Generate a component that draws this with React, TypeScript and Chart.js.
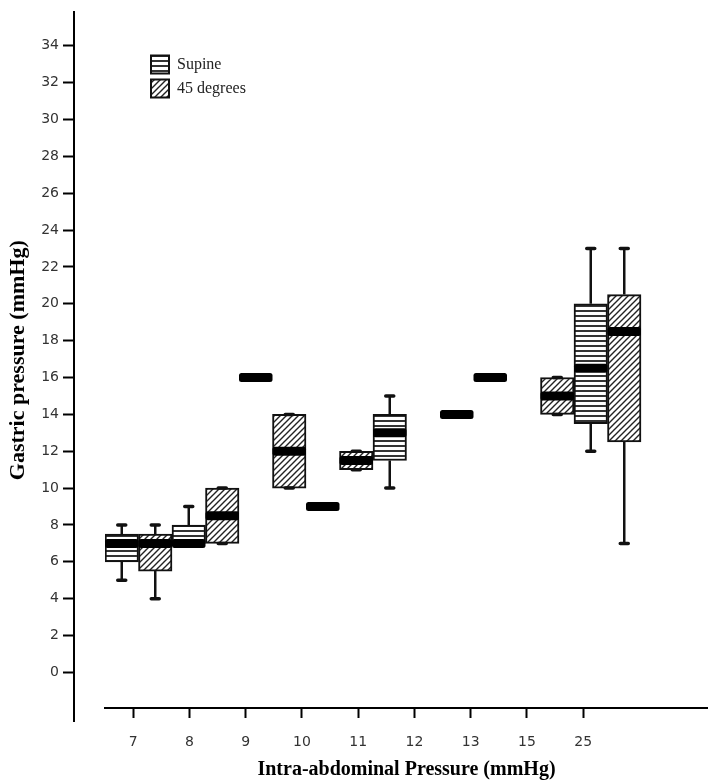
import React, { useEffect, useRef } from 'react';
import { Chart, registerables } from 'chart.js';

Chart.register(...registerables);

// ---- data ----
const categories = ['7', '8', '9', '10', '11', '12', '13', '15', '25'];
const xTickLabels = ['7', '8', '9', '10', '11', '12', '13', '15', '25'];
const yTickValues = [0, 2, 4, 6, 8, 10, 12, 14, 16, 18, 20, 22, 24, 26, 28, 30, 32, 34];

const supineMin = [5, 7, 16, 9, 10, 14, null, 12, null];
const supineQ1 = [6, 7, 16, 9, 11.5, 14, null, 13.5, null];
const supineMedian = [7, 7, 16, 9, 13, 14, null, 16.5, null];
const supineQ3 = [7.5, 8, 16, 9, 14, 14, null, 20, null];
const supineMax = [8, 9, 16, 9, 15, 14, null, 23, null];

const deg45Min = [4, 7, 10, 11, null, 16, 14, 7, null];
const deg45Q1 = [5.5, 7, 10, 11, null, 16, 14, 12.5, null];
const deg45Median = [7, 8.5, 12, 11.5, null, 16, 15, 18.5, null];
const deg45Q3 = [7.5, 10, 14, 12, null, 16, 16, 20.5, null];
const deg45Max = [8, 10, 14, 12, null, 16, 16, 23, null];

function makeStripes(): CanvasPattern {
  const c = document.createElement('canvas');
  c.width = 4;
  c.height = 5;
  const g = c.getContext('2d')!;
  g.fillStyle = '#ffffff';
  g.fillRect(0, 0, 4, 5);
  g.fillStyle = '#333';
  g.fillRect(0, 0, 4, 2);
  return g.createPattern(c, 'repeat')!;
}

function makeHatch(): CanvasPattern {
  const s = 6;
  const c = document.createElement('canvas');
  c.width = s;
  c.height = s;
  const g = c.getContext('2d')!;
  g.fillStyle = '#ffffff';
  g.fillRect(0, 0, s, s);
  g.strokeStyle = '#222';
  g.lineWidth = 1.4;
  g.beginPath();
  g.moveTo(0, s);
  g.lineTo(s, 0);
  g.moveTo(-s / 2, s / 2);
  g.lineTo(s / 2, -s / 2);
  g.moveTo(s / 2, s * 1.5);
  g.lineTo(s * 1.5, s / 2);
  g.stroke();
  return g.createPattern(c, 'repeat')!;
}

const boxDetails = {
  id: 'boxDetails',
  afterDatasetsDraw(chart: any) {
    const { ctx } = chart;
    const yScale = chart.scales.y;
    chart.data.datasets.forEach((ds: any, di: number) => {
      const meta = chart.getDatasetMeta(di);
      if (!ds.stats || meta.hidden) return;
      meta.data.forEach((el: any, i: number) => {
        const med = ds.stats.median[i];
        if (med == null) return;
        const { x, width } = el.getProps(['x', 'width'], true);
        const pMin = yScale.getPixelForValue(ds.stats.min[i]);
        const pMax = yScale.getPixelForValue(ds.stats.max[i]);
        const pQ1 = yScale.getPixelForValue(ds.stats.q1[i]);
        const pQ3 = yScale.getPixelForValue(ds.stats.q3[i]);
        const pMed = yScale.getPixelForValue(med);
        ctx.save();
        ctx.strokeStyle = '#111';
        ctx.lineWidth = 2.5;
        ctx.beginPath();
        ctx.moveTo(x, pQ3);
        ctx.lineTo(x, pMax);
        ctx.moveTo(x, pQ1);
        ctx.lineTo(x, pMin);
        ctx.stroke();
        ctx.lineWidth = 3.5;
        ctx.lineCap = 'round';
        ctx.beginPath();
        ctx.moveTo(x - 4, pMax);
        ctx.lineTo(x + 4, pMax);
        ctx.moveTo(x - 4, pMin);
        ctx.lineTo(x + 4, pMin);
        ctx.stroke();
        ctx.fillStyle = '#000';
        ctx.beginPath();
        if ((ctx as any).roundRect) {
          (ctx as any).roundRect(x - width / 2, pMed - 4.5, width, 9, 2.5);
        } else {
          ctx.rect(x - width / 2, pMed - 4.5, width, 9);
        }
        ctx.fill();
        ctx.restore();
      });
    });
  },
};

// extends the value axis line a little below the category axis, as in the source figure
const axisTail = {
  id: 'axisTail',
  afterDraw(chart: any) {
    const y = chart.scales.y;
    const { ctx } = chart;
    ctx.save();
    ctx.strokeStyle = '#000';
    ctx.lineWidth = 2;
    ctx.beginPath();
    ctx.moveTo(y.right, y.bottom - 2);
    ctx.lineTo(y.right, y.bottom + 14);
    ctx.stroke();
    ctx.restore();
  },
};

const legendPlacer = {
  id: 'legendPlacer',
  afterLayout(chart: any) {
    const lg = chart.legend;
    if (!lg) return;
    const w = lg.width;
    const h = lg.height;
    lg.left = chart.chartArea.left + 40;
    lg.top = chart.chartArea.top + 37;
    lg.right = lg.left + w;
    lg.bottom = lg.top + h;
  },
};

export default function App() {
  const ref = useRef<HTMLCanvasElement>(null);
  useEffect(() => {
    const canvas = ref.current!;
    const stripes = makeStripes();
    const hatch = makeHatch();
    const boxData = (q1: (number | null)[], q3: (number | null)[]) =>
      q1.map((v, i) => (v == null || q3[i] == null ? null : [v, q3[i] as number]));

    const chart = new Chart(canvas, {
      type: 'bar',
      data: {
        labels: categories,
        datasets: [
          {
            label: 'Supine',
            data: boxData(supineQ1, supineQ3) as any,
            backgroundColor: stripes as any,
            borderColor: '#111',
            borderWidth: 2,
            borderSkipped: false,
            xAxisID: 'xb',
            yAxisID: 'y',
            categoryPercentage: 1,
            barPercentage: 1,
            stats: { min: supineMin, q1: supineQ1, median: supineMedian, q3: supineQ3, max: supineMax },
          } as any,
          {
            label: '45 degrees',
            data: boxData(deg45Q1, deg45Q3) as any,
            backgroundColor: hatch as any,
            borderColor: '#111',
            borderWidth: 2,
            borderSkipped: false,
            xAxisID: 'xb',
            yAxisID: 'y',
            categoryPercentage: 1,
            barPercentage: 1,
            stats: { min: deg45Min, q1: deg45Q1, median: deg45Median, q3: deg45Q3, max: deg45Max },
          } as any,
        ],
      },
      options: {
        animation: false,
        responsive: false,
        devicePixelRatio: 1,
        layout: { padding: { top: 3, right: 0, left: 0, bottom: 0 } },
        font: { family: 'DejaVu Sans' },
        plugins: {
          tooltip: { enabled: false },
          legend: {
            position: 'chartArea' as any,
            align: 'start',
            labels: {
              boxWidth: 18,
              boxHeight: 18,
              padding: 6,
              color: '#222',
              font: { family: 'Liberation Serif', size: 16 },
            },
          },
        },
        scales: {
          y: {
            type: 'linear',
            position: 'left',
            weight: 1,
            min: -1.93,
            max: 35.81,
            afterBuildTicks: (s: any) => {
              s.ticks = yTickValues.map((v) => ({ value: v }));
            },
            afterFit: (s: any) => {
              s.width = 74;
            },
            border: { display: true, color: '#000', width: 2 },
            grid: {
              display: true,
              drawOnChartArea: false,
              drawTicks: true,
              tickLength: 11,
              tickWidth: 2,
              tickColor: '#000',
              color: '#000',
            },
            ticks: { font: { family: 'DejaVu Sans', size: 14 }, color: '#333', padding: 4 },
            title: {
              display: true,
              text: 'Gastric pressure (mmHg)',
              color: '#000',
              font: { family: 'Liberation Serif', size: 22, weight: 'bold' },
              padding: { top: 5, bottom: 0 },
            },
          },
          yGap: {
            type: 'linear',
            position: 'left',
            weight: 0,
            min: 0,
            max: 1,
            afterFit: (s: any) => {
              s.width = 31;
            },
            border: { display: false },
            grid: { display: false },
            ticks: { display: false },
          },
          x: {
            type: 'linear',
            position: 'bottom',
            min: -0.5,
            max: 10.22,
            offset: false,
            afterBuildTicks: (s: any) => {
              s.ticks = xTickLabels.map((_, i) => ({ value: i }));
            },
            afterFit: (s: any) => {
              s.height = 74;
            },
            border: { display: true, color: '#000', width: 2 },
            grid: {
              offset: false,
              drawOnChartArea: false,
              tickLength: 10,
              tickWidth: 2,
              tickColor: '#000',
              color: '#000',
            },
            ticks: {
              callback: (v: any) => xTickLabels[v as number] ?? '',
              font: { family: 'DejaVu Sans', size: 14 },
              color: '#333',
              padding: 16,
              maxRotation: 0,
              autoSkip: false,
            },
            title: {
              display: true,
              text: 'Intra-abdominal Pressure (mmHg)',
              color: '#000',
              font: { family: 'Liberation Serif', size: 20, weight: 'bold' },
              padding: { top: 0, bottom: 0 },
            },
          },
          xb: {
            type: 'category',
            display: false,
            offset: true,
          },
        },
      } as any,
      plugins: [boxDetails, axisTail, legendPlacer],
    });
    return () => chart.destroy();
  }, []);

  return (
    <div style={{ position: 'fixed', left: 0, top: 0, width: 708, height: 782, background: '#fff' }}>
      <canvas ref={ref} width={708} height={782} style={{ display: 'block', width: 708, height: 782 }} />
    </div>
  );
}
